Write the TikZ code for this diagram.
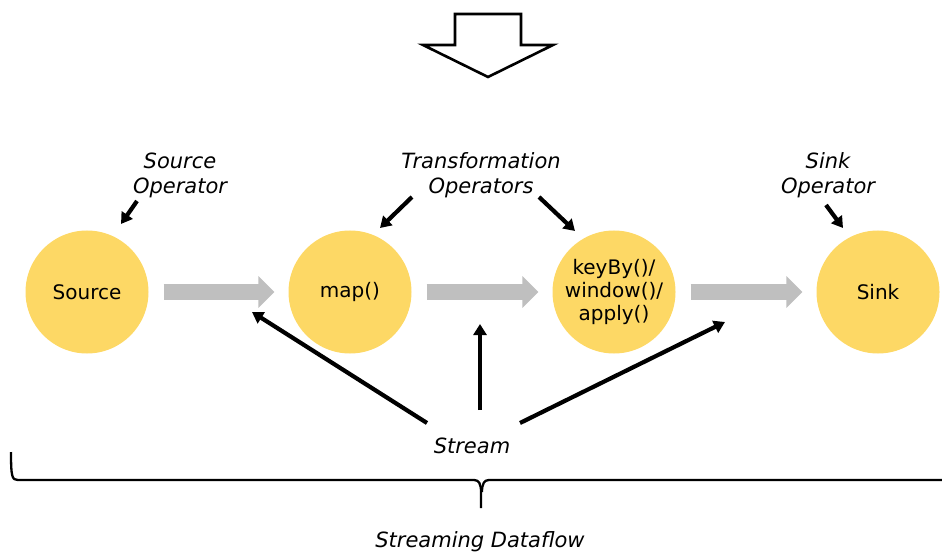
\documentclass[tikz,border=0pt]{standalone}
\usepackage{fontspec}
\setmainfont{DejaVu Sans}
\usetikzlibrary{arrows.meta}
\definecolor{opfill}{HTML}{FDD865}
\definecolor{flowgray}{HTML}{BFBFBF}
\tikzset{
  op/.style={circle, fill=opfill, minimum size=123pt, inner sep=0pt, align=center,
    font=\fontsize{20}{23}\selectfont},
  lbl/.style={align=center, font=\fontsize{21}{25}\selectfont\itshape, inner sep=0pt},
  flow/.style={draw=flowgray, line width=16pt, shorten <=15pt, shorten >=14pt,
    -{Triangle[length=16pt,width=31pt]}},
  ptr/.style={draw=black, line width=4.2pt, -{Triangle[length=11pt,width=13pt]}},
}
\begin{document}
\begin{tikzpicture}[x=1pt,y=-1pt]
\useasboundingbox (0,0) rectangle (942,553);
% block arrow at top
\draw[line width=2.6pt, line join=miter, fill=white]
  (455,14) -- (521,14) -- (521,45) -- (553,45) -- (488,77) -- (423,45) -- (455,45) -- cycle;
% operators
\node[op] (src) at (87,292) {Source};
\node[op] (map) at (350,292) {map()};
\node[op] (key) at (614,292) {keyBy()/\\window()/\\apply()};
\node[op] (snk) at (878,292) {Sink};
% flow arrows
\draw[flow] (src.east) -- (map.west);
\draw[flow] (map.east) -- (key.west);
\draw[flow] (key.east) -- (snk.west);
% labels
\node[lbl] (srcL) at (180,175) {Source\\Operator};
\node[lbl] (trL) at (481,175) {Transformation\\Operators};
\node[lbl] (snkL) at (828,175) {Sink\\Operator};
\node[lbl] (strm) at (472,446) {Stream};
\node[lbl, anchor=base] (sdf) at (480,547.5) {Streaming Dataflow};
% label pointers
\coordinate (p1a) at (137,201); \coordinate (p1b) at (121,224);
\coordinate (p2a) at (412,197); \coordinate (p2b) at (380,228);
\coordinate (p3a) at (539,197); \coordinate (p3b) at (575,231);
\coordinate (p4a) at (826,205); \coordinate (p4b) at (843,228);
\draw[ptr] (p1a) -- (p1b);
\draw[ptr] (p2a) -- (p2b);
\draw[ptr] (p3a) -- (p3b);
\draw[ptr] (p4a) -- (p4b);
% stream pointers
\coordinate (s1a) at (427,423); \coordinate (s1b) at (252,312);
\coordinate (s2a) at (480,410); \coordinate (s2b) at (480,324);
\coordinate (s3a) at (520,423); \coordinate (s3b) at (725,322);
\draw[ptr] (s1a) -- (s1b);
\draw[ptr] (s2a) -- (s2b);
\draw[ptr] (s3a) -- (s3b);
% brace
\draw[line width=2.3pt]
  (11,452) .. controls (11,477) and (12,480) .. (18,480) -- (474,480)
  .. controls (479,480) and (481,484) .. (481,492) -- (481,508);
\draw[line width=2.3pt]
  (942,480) -- (489,480) .. controls (484,480) and (482,484) .. (482,492);
\end{tikzpicture}
\end{document}
